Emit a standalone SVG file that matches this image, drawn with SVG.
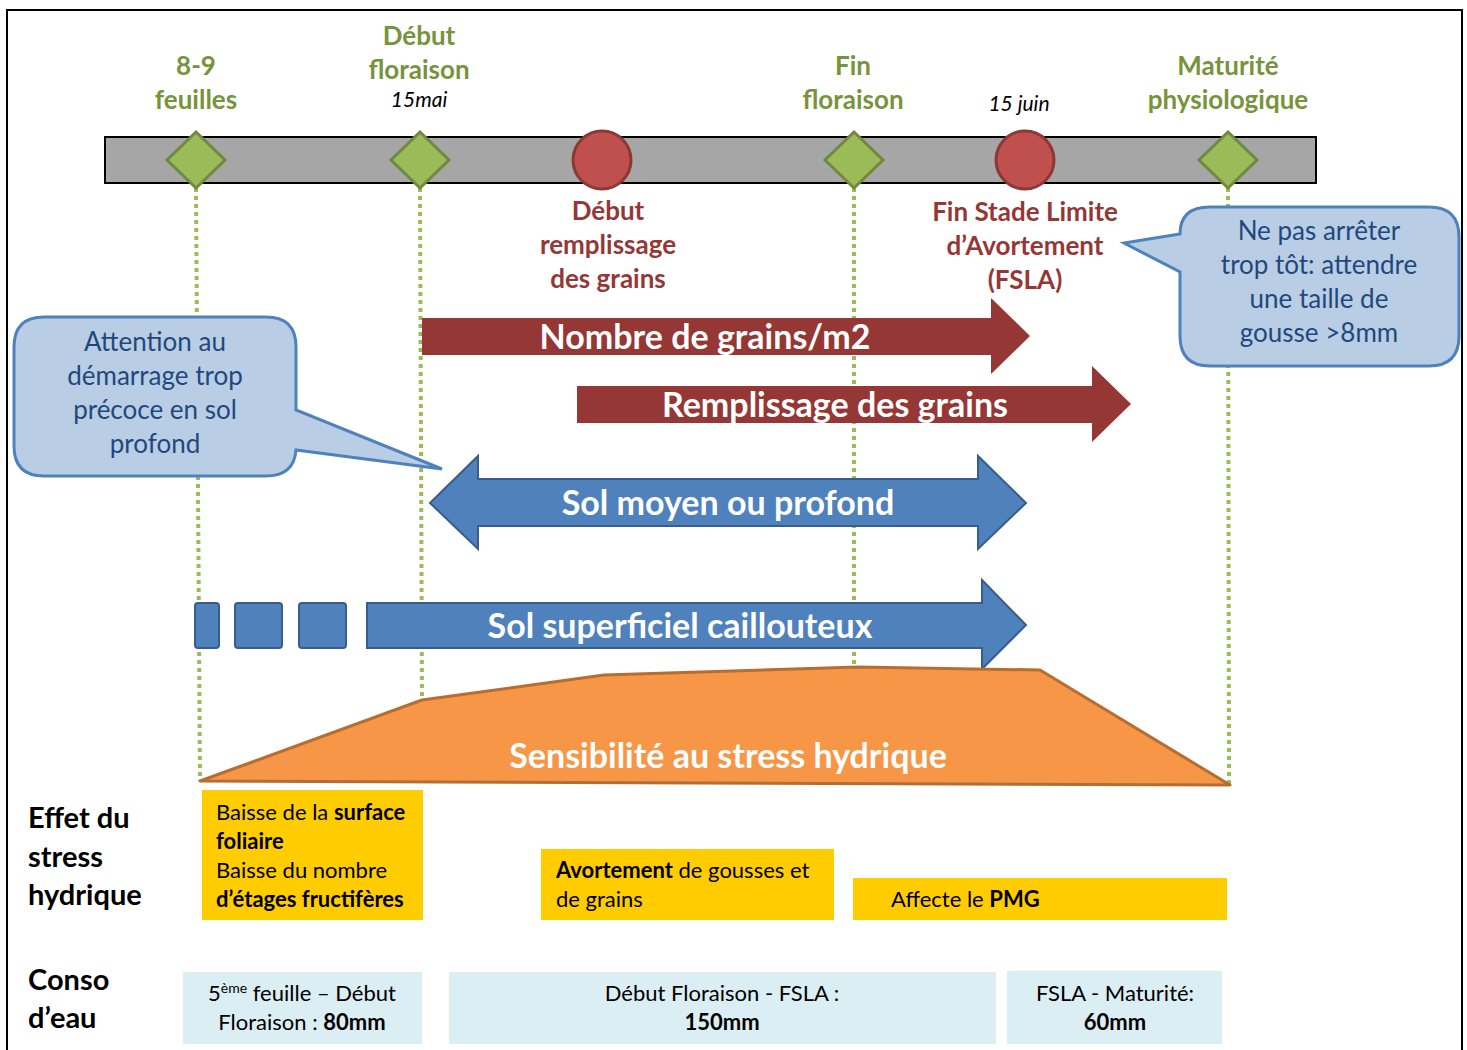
<svg xmlns="http://www.w3.org/2000/svg" width="1467" height="1050" viewBox="0 0 1467 1050">
<style>
text{font-family:Lato,"Open Sans","Liberation Sans",sans-serif}
.g{fill:#77933C;font-weight:bold;font-size:26px;text-anchor:middle}
.r{fill:#953735;font-weight:bold;font-size:26px;text-anchor:middle}
.it{fill:#000;font-style:italic;font-size:21px;text-anchor:middle}
.dia{fill:#9BBB59;stroke:#71893F;stroke-width:3}
.cir{fill:#C0504D;stroke:#8C3836;stroke-width:3}
.dot{stroke:#9BBB59;stroke-width:4;stroke-dasharray:4 4;fill:none}
.call{fill:#B9CDE5;stroke:#4F81BD;stroke-width:3}
.ct{fill:#1F497D;font-size:26px;text-anchor:middle}
.red{fill:#953735}
.blue{fill:#4F81BD;stroke:#385D8A;stroke-width:2}
.wt{fill:#fff;font-weight:bold;font-size:34px;text-anchor:middle}
.yb{fill:#FFCC00}
.lb{fill:#DAEEF3}
.bt{fill:#000;font-size:22px}
.lab{fill:#000;font-weight:bold;font-size:29px}
.b{font-weight:bold}
</style>
<rect x="7" y="10" width="1455" height="1070" fill="#fff" stroke="#000" stroke-width="2"/>

<g id="timeline">
<rect x="105" y="137" width="1211" height="46" fill="#A6A6A6" stroke="#000" stroke-width="2"/>
</g>

<g id="connectors">
<path class="dot" d="M196,188 L200,781"/>
<path class="dot" d="M420,188 L422,700"/>
<path class="dot" d="M854,188 L854,668"/>
<path class="dot" d="M1228,188 L1229,784"/>
</g>

<g id="stage-8-9">
<path class="dia" d="M196,132 L225,160 L196,188 L167,160 Z"/>
<text class="g" x="196" y="75">8-9</text>
<text class="g" x="196" y="109">feuilles</text>
</g>
<g id="stage-debut-floraison">
<path class="dia" d="M420,132 L449,160 L420,188 L391,160 Z"/>
<text class="g" x="419" y="45">Début</text>
<text class="g" x="419" y="79">floraison</text>
<text class="it" x="419" y="107">15mai</text>
</g>
<g id="stage-debut-remplissage">
<circle class="cir" cx="602" cy="160" r="29"/>
<text class="r" x="608" y="220">Début</text>
<text class="r" x="608" y="254">remplissage</text>
<text class="r" x="608" y="288">des grains</text>
</g>
<g id="stage-fin-floraison">
<path class="dia" d="M854,132 L883,160 L854,188 L825,160 Z"/>
<text class="g" x="853" y="75">Fin</text>
<text class="g" x="853" y="109">floraison</text>
</g>
<g id="stage-fsla">
<circle class="cir" cx="1025" cy="160" r="29"/>
<text class="it" x="1019" y="111">15 juin</text>
<text class="r" x="1025" y="221">Fin Stade Limite</text>
<text class="r" x="1025" y="255">d’Avortement</text>
<text class="r" x="1025" y="289">(FSLA)</text>
</g>
<g id="stage-maturite">
<path class="dia" d="M1228,132 L1257,160 L1228,188 L1199,160 Z"/>
<text class="g" x="1228" y="75">Maturité</text>
<text class="g" x="1228" y="109">physiologique</text>
</g>

<g id="callout-right">
<path class="call" d="M1210,207 H1429 Q1459,207 1459,237 V336 Q1459,366 1429,366 H1210 Q1180,366 1180,336 V272 L1124,243 L1180,234 Q1180,207 1210,207 Z"/>
<text class="ct" x="1319" y="240">Ne pas arrêter</text>
<text class="ct" x="1319" y="274">trop tôt: attendre</text>
<text class="ct" x="1319" y="308">une taille de</text>
<text class="ct" x="1319" y="342">gousse &gt;8mm</text>
</g>

<g id="callout-left">
<path class="call" d="M44,317 H266 Q296,317 296,347 V410 L442,469 L296,450 Q294,476 266,476 H44 Q14,476 14,446 V347 Q14,317 44,317 Z"/>
<text class="ct" x="155" y="351">Attention au</text>
<text class="ct" x="155" y="385">démarrage trop</text>
<text class="ct" x="155" y="419">précoce en sol</text>
<text class="ct" x="155" y="453">profond</text>
</g>

<g id="arrow-nombre-grains">
<path class="red" d="M422,318 H991 V298 L1030,336 L991,374 V355 H422 Z"/>
<text class="wt" x="705" y="349">Nombre de grains/m2</text>
</g>
<g id="arrow-remplissage">
<path class="red" d="M577,386 H1092 V366 L1131,404 L1092,442 V423 H577 Z"/>
<text class="wt" x="835" y="417">Remplissage des grains</text>
</g>

<g id="arrow-sol-moyen">
<path class="blue" d="M430,503 L478,456 V479 H978 V456 L1026,503 L978,549 V526 H478 V549 Z"/>
<text class="wt" x="728" y="515">Sol moyen ou profond</text>
</g>

<g id="arrow-sol-superficiel">
<rect class="blue" x="195" y="603" width="24" height="45" rx="3"/>
<rect class="blue" x="235" y="603" width="47" height="45" rx="3"/>
<rect class="blue" x="299" y="603" width="47" height="45" rx="3"/>
<path class="blue" d="M367,603 H982 V580 L1026,625 L982,669 V648 H367 Z"/>
<text class="wt" x="680" y="638">Sol superficiel caillouteux</text>
</g>

<g id="sensibilite">
<path d="M200,781 L422,700 L604,675 L858,667 L1040,670 L1230,785 Z" fill="#F79646" stroke="#B66D31" stroke-width="3" stroke-linejoin="round"/>
<text class="wt" x="728" y="768">Sensibilité au stress hydrique</text>
</g>

<g id="label-effet">
<text class="lab" x="28" y="828">Effet du</text>
<text class="lab" x="28" y="867">stress</text>
<text class="lab" x="28" y="905">hydrique</text>
</g>
<g id="effet-1">
<rect class="yb" x="202" y="790" width="221" height="130"/>
<text class="bt" x="216" y="820">Baisse de la <tspan class="b">surface</tspan></text>
<text class="bt b" x="216" y="849">foliaire</text>
<text class="bt" x="216" y="878">Baisse du nombre</text>
<text class="bt b" x="216" y="907">d’étages fructifères</text>
</g>
<g id="effet-2">
<rect class="yb" x="541" y="849" width="293" height="71"/>
<text class="bt" x="556" y="878"><tspan class="b">Avortement</tspan> de gousses et</text>
<text class="bt" x="556" y="907">de grains</text>
</g>
<g id="effet-3">
<rect class="yb" x="853" y="878" width="374" height="42"/>
<text class="bt" x="891" y="907">Affecte le <tspan class="b">PMG</tspan></text>
</g>

<g id="label-conso">
<text class="lab" x="28" y="990">Conso</text>
<text class="lab" x="28" y="1028">d’eau</text>
</g>
<g id="conso-1">
<rect class="lb" x="183" y="972" width="239" height="72"/>
<text class="bt" x="302" y="1001" text-anchor="middle">5<tspan font-size="14" dy="-8">ème</tspan><tspan dy="8"> feuille – Début</tspan></text>
<text class="bt" x="302" y="1030" text-anchor="middle">Floraison : <tspan class="b">80mm</tspan></text>
</g>
<g id="conso-2">
<rect class="lb" x="449" y="972" width="547" height="72"/>
<text class="bt" x="722" y="1001" text-anchor="middle">Début Floraison - FSLA :</text>
<text class="bt b" x="722" y="1030" text-anchor="middle">150mm</text>
</g>
<g id="conso-3">
<rect class="lb" x="1007" y="971" width="215" height="73"/>
<text class="bt" x="1115" y="1001" text-anchor="middle">FSLA - Maturité:</text>
<text class="bt b" x="1115" y="1030" text-anchor="middle">60mm</text>
</g>
</svg>
